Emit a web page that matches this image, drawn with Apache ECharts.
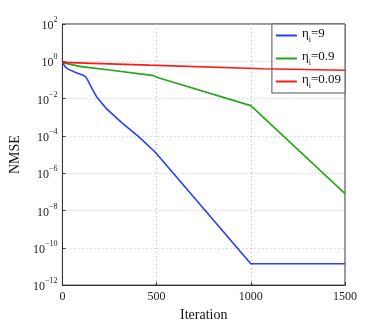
<!DOCTYPE html>
<html><head><meta charset="utf-8">
<script src="https://cdn.jsdelivr.net/npm/echarts@6/dist/echarts.min.js"></script>
<style>html,body{margin:0;padding:0;background:#fff}#c{width:382px;height:327px}</style>
</head><body><div id="c"></div>
<script>
const seriesNames = ['η_i=9', 'η_i=0.9', 'η_i=0.09'];
const legendValues = ['9', '0.9', '0.09'];
const xTicks = [0, 500, 1000, 1500];
const blueData = [[0,0.85],[15,0.5],[30,0.38],[80,0.23],[110,0.18],[125,0.14],[140,0.076],[157,0.034],[182,0.0123],[232,0.003],[316,5e-4],[400,1e-4],[485,1.6e-5],[500,1.1e-5],[1000,1.4e-11],[1500,1.4e-11]];
const greenData = [[0,0.85],[100,0.52],[250,0.34],[485,0.17],[500,0.14],[1000,0.0042],[1500,8e-8]];
const redData = [[0,0.88],[460,0.62],[1065,0.4],[1500,0.33]];
const colors = ['#2a3cff', '#22a814', '#ff1a1a'];

const serif = 'Liberation Serif';
const chart = echarts.init(document.getElementById('c'));
chart.setOption({
  animation: false,
  textStyle: {fontFamily: serif},
  grid: {left: 49, right: 37, top: 24, bottom: 37, show: true, borderColor: '#333', borderWidth: 1, backgroundColor: 'transparent'},
  xAxis: {
    type: 'value', min: 0, max: 1500, interval: 500,
    name: 'Iteration', nameLocation: 'middle', nameGap: 21,
    nameTextStyle: {fontFamily: serif, fontSize: 14, color: '#111'},
    axisLine: {lineStyle: {color: '#333'}},
    axisTick: {inside: true, length: 3, lineStyle: {color: '#333'}},
    axisLabel: {fontFamily: serif, fontSize: 12, color: '#222', margin: 6, formatter: function (v) { return String(v); }},
    splitLine: {show: true, lineStyle: {type: [1, 3], color: '#bbb'}}
  },
  yAxis: {
    type: 'log', logBase: 10, min: 1e-12, max: 1e2, interval: 2,
    name: 'NMSE', nameLocation: 'middle', nameGap: 32,
    nameTextStyle: {fontFamily: serif, fontSize: 14, color: '#111'},
    axisLine: {lineStyle: {color: '#333'}},
    axisTick: {inside: true, length: 3, lineStyle: {color: '#333'}},
    axisLabel: {
      margin: 5, fontFamily: serif, color: '#222',
      formatter: function (v) {
        const e = Math.round(Math.log10(v));
        const s = e < 0 ? '−' + (-e) : String(e);
        return '{b|10}{e|' + s + '}';
      },
      rich: {
        b: {fontFamily: serif, fontSize: 12, color: '#222', lineHeight: 16, verticalAlign: 'bottom'},
        e: {fontFamily: serif, fontSize: 8, color: '#222', lineHeight: 16, verticalAlign: 'top'}
      }
    },
    splitLine: {show: true, lineStyle: {type: [1, 3], color: '#bbb'}}
  },
  legend: {
    orient: 'vertical', right: 37, top: 24, padding: [3, 4, 3, 4], itemGap: 6,
    backgroundColor: '#fff', borderColor: '#555', borderWidth: 1,
    itemWidth: 21, itemHeight: 10, icon: 'path://M0,4 L21,4 L21,6 L0,6 Z',
    data: seriesNames,
    formatter: function (name) {
      const i = seriesNames.indexOf(name);
      return '{a|η}{s|i}{a|=' + legendValues[i] + '}';
    },
    textStyle: {
      fontFamily: serif,
      rich: {
        a: {fontFamily: serif, fontSize: 13, color: '#111', lineHeight: 17, verticalAlign: 'top'},
        s: {fontFamily: serif, fontSize: 8, color: '#111', lineHeight: 17, verticalAlign: 'bottom'}
      }
    }
  },
  series: [
    {name: seriesNames[0], type: 'line', data: blueData, showSymbol: false, lineStyle: {color: colors[0], width: 1.6}, itemStyle: {color: colors[0]}, z: 3},
    {name: seriesNames[1], type: 'line', data: greenData, showSymbol: false, lineStyle: {color: colors[1], width: 1.6}, itemStyle: {color: colors[1]}, z: 2},
    {name: seriesNames[2], type: 'line', data: redData, showSymbol: false, lineStyle: {color: colors[2], width: 1.6}, itemStyle: {color: colors[2]}, z: 4}
  ]
});
</script></body></html>
